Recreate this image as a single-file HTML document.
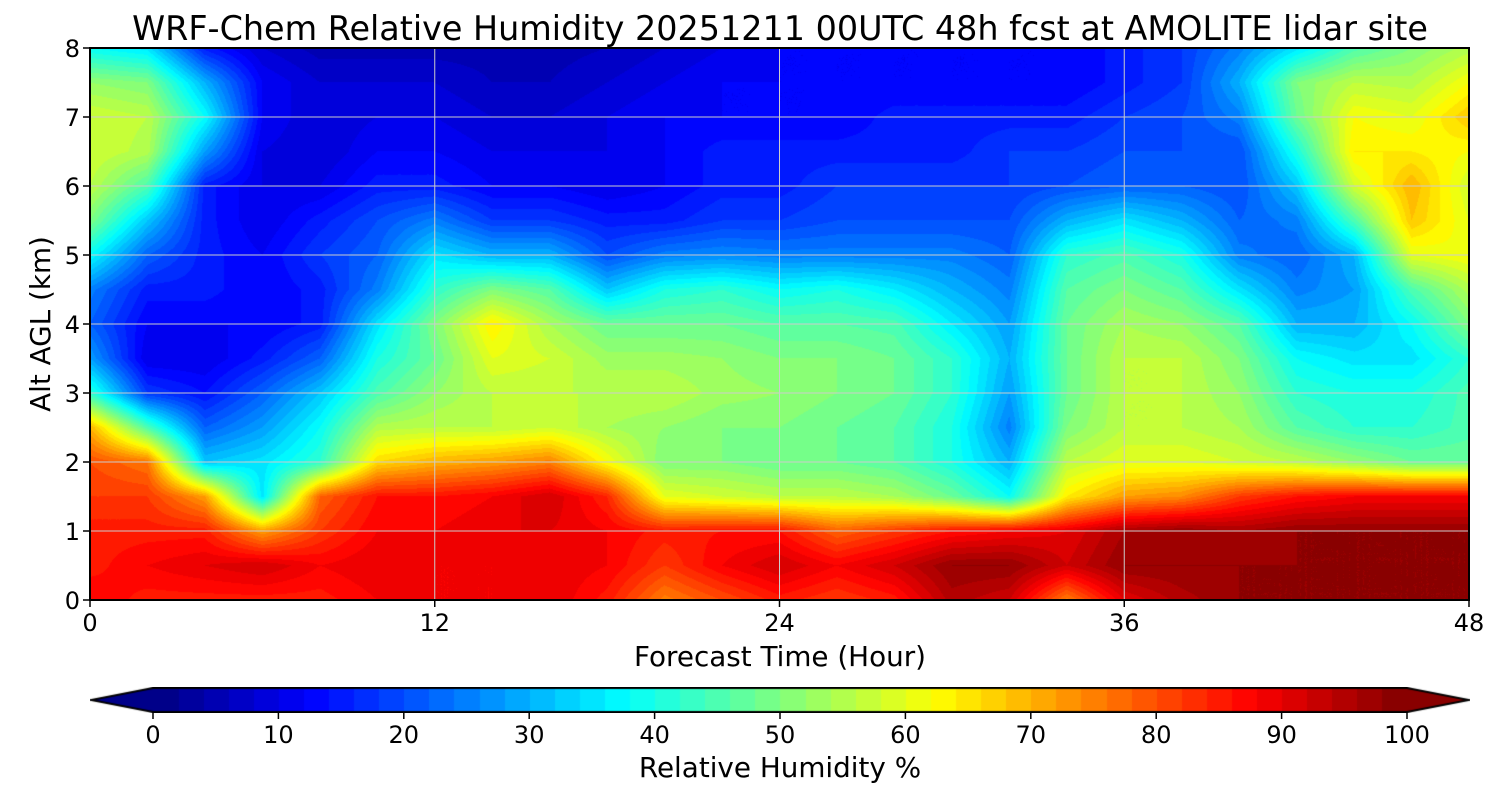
<!DOCTYPE html>
<html><head><meta charset="utf-8"><style>
html,body{margin:0;padding:0;background:#fff;}
#wrap{position:relative;width:1500px;height:800px;font-family:"DejaVu Sans","Liberation Sans",sans-serif;}
canvas{position:absolute;}
svg{position:absolute;left:0;top:0;font-family:"DejaVu Sans","Liberation Sans",sans-serif;}
</style></head><body>
<div id="wrap">
<canvas id="field" width="1379" height="552" style="left:90px;top:48px"></canvas>
<canvas id="cbar" width="1380" height="26" style="left:90px;top:687px"></canvas>
<svg id="ov" width="1500" height="800"></svg>
</div>
<script>
const times=[0,2,4,6,8,10,12,14,16,18,20,22,24,26,28,30,32,34,36,38,40,42,44,46,48];
const alts=[0,0.5,1,1.5,2,2.5,3,3.5,4,4.5,5,5.5,6,6.5,7,7.5,8];
const xTicks=[0,12,24,36,48];
const yTicks=[0,1,2,3,4,5,6,7,8];
const cbTicks=[0,10,20,30,40,50,60,70,80,90,100];
// rh[timeIndex][altIndex]
const rh=[
[88,85,85,82,80,70,42,28,22,25,38,50,56,58,58,52,38],
[85,88,85,82,76,45,18,10,12,15,22,32,45,55,56,50,35],
[85,90,85,72,32,22,14,10,12,15,15,15,15,28,38,30,15],
[85,92,72,35,35,28,22,15,12,12,12,10,10,10,12,12,8],
[85,88,82,78,42,38,32,22,15,15,18,15,10,8,8,8,5],
[88,90,88,86,66,55,45,40,35,25,22,20,15,12,10,8,5],
[88,88,88,86,70,56,52,48,50,42,35,25,15,12,10,8,5],
[88,88,90,88,72,56,56,60,64,50,30,18,12,10,8,6,5],
[90,90,90,92,75,58,56,58,54,46,30,18,12,10,8,6,5],
[85,88,88,84,62,54,56,53,48,32,20,15,10,10,10,8,6],
[75,82,85,60,50,52,56,53,48,40,25,15,12,12,12,10,8],
[80,88,86,58,50,50,53,52,48,42,26,18,15,15,12,12,10],
[85,92,86,56,48,50,52,50,46,38,25,18,15,15,12,12,12],
[82,88,78,56,48,48,50,50,46,40,25,20,18,15,12,12,12],
[85,92,82,54,46,46,48,48,45,36,25,20,18,15,15,12,12],
[95,98,86,48,40,40,42,42,36,30,25,20,18,15,15,12,12],
[92,98,88,38,30,25,28,30,28,25,22,20,18,18,15,12,12],
[75,92,90,64,56,50,48,48,48,46,42,30,20,18,15,12,12],
[90,98,96,72,60,56,56,56,54,50,45,35,22,20,18,15,15],
[95,98,98,74,60,56,56,56,52,46,40,30,22,20,20,18,18],
[98,98,96,82,58,54,52,50,46,35,25,22,20,20,25,30,25],
[98,98,98,86,56,46,42,38,30,25,22,25,32,40,48,50,35],
[98,98,98,88,52,42,40,35,30,28,30,45,58,64,62,56,45],
[98,98,98,88,48,42,40,35,38,45,60,68,70,64,60,55,50],
[98,98,98,88,48,45,45,42,50,55,62,60,58,62,68,62,55]
];
function jet(v){
  let t=Math.max(0,Math.min(1,v));
  const f=(x)=>Math.max(0,Math.min(1,x));
  const r=f(Math.min(4*t-1.5,-4*t+4.5)),g=f(Math.min(4*t-0.5,-4*t+3.5)),b=f(Math.min(4*t+0.5,-4*t+2.5));
  return [r*255|0,g*255|0,b*255|0];
}
function q(v){let l=Math.floor(Math.max(0,Math.min(99.99,v))/2);return jet((l+0.5)/50);}
const X0=90,X1=1469,Y0=48,Y1=600;
const xs=t=>X0+(t-times[0])/(times[times.length-1]-times[0])*(X1-X0);
const ys=a=>Y1-(a-alts[0])/(alts[alts.length-1]-alts[0])*(Y1-Y0);
function val(t,a){
  let i=0;while(i<times.length-2&&t>times[i+1])i++;
  let j=0;while(j<alts.length-2&&a>alts[j+1])j++;
  const u=(t-times[i])/(times[i+1]-times[i]),w=(a-alts[j])/(alts[j+1]-alts[j]);
  return rh[i][j]*(1-u)*(1-w)+rh[i+1][j]*u*(1-w)+rh[i][j+1]*(1-u)*w+rh[i+1][j+1]*u*w;
}
(function(){
  const c=document.getElementById('field'),ctx=c.getContext('2d');
  const W=c.width,H=c.height,img=ctx.createImageData(W,H);
  const tMax=times[times.length-1],aMax=alts[alts.length-1];
  for(let y=0;y<H;y++){const a=aMax*(1-(y+0.5)/H);
    for(let x=0;x<W;x++){const t=tMax*(x+0.5)/W;const col=q(val(t,a));const k=(y*W+x)*4;
      img.data[k]=col[0];img.data[k+1]=col[1];img.data[k+2]=col[2];img.data[k+3]=255;}}
  ctx.putImageData(img,0,0);
  const cb=document.getElementById('cbar'),cx=cb.getContext('2d');
  for(let x=63;x<1317;x++){const v=(x-63)/1254*100;const col=q(v);cx.fillStyle=`rgb(${col})`;cx.fillRect(x,1,1,24);}
  cx.fillStyle=`rgb(${jet(0.01)})`;cx.beginPath();cx.moveTo(63,1);cx.lineTo(0,13);cx.lineTo(63,25);cx.fill();
  cx.fillStyle=`rgb(${jet(0.99)})`;cx.beginPath();cx.moveTo(1317,1);cx.lineTo(1379,13);cx.lineTo(1317,25);cx.fill();
  cx.strokeStyle='#000';cx.lineWidth=2;cx.beginPath();cx.moveTo(63,1);cx.lineTo(1,13);cx.lineTo(63,25);cx.lineTo(1317,25);cx.lineTo(1379,13);cx.lineTo(1317,1);cx.closePath();cx.stroke();
})();
(function(){
  const s=document.getElementById('ov');const NS='http://www.w3.org/2000/svg';
  function el(tag,attrs,txt){const e=document.createElementNS(NS,tag);for(const k in attrs)e.setAttribute(k,attrs[k]);if(txt!==undefined)e.textContent=txt;s.appendChild(e);return e;}
  xTicks.forEach(t=>{const x=xs(t);
    const g=el('line',{x1:x,x2:x,y1:Y0,y2:Y1,stroke:'#ccc','stroke-width':1});
    
    el('line',{x1:x,x2:x,y1:Y1,y2:Y1+7,stroke:'#000','stroke-width':1.5});
    const l=el('text',{x:x,y:631,'text-anchor':'middle','font-size':24},String(t));
    });
  yTicks.forEach(a=>{const y=ys(a);
    const g=el('line',{x1:X0,x2:X1,y1:y,y2:y,stroke:'#ccc','stroke-width':1});
    
    el('line',{x1:X0-7,x2:X0,y1:y,y2:y,stroke:'#000','stroke-width':1.5});
    const l=el('text',{x:80,y:y+9,'text-anchor':'end','font-size':24},String(a));
    });
  const fr=el('rect',{x:X0,y:Y0,width:X1-X0,height:Y1-Y0,fill:'none',stroke:'#000','stroke-width':2});
  
  cbTicks.forEach(v=>{const x=153+v/100*1254;
    el('line',{x1:x,x2:x,y1:712,y2:719,stroke:'#000','stroke-width':1.5});
    const l=el('text',{x:x,y:743,'text-anchor':'middle','font-size':24},String(v));
    });
  const ti=el('text',{x:780,y:40,'text-anchor':'middle','font-size':33.4},'WRF-Chem Relative Humidity 20251211 00UTC 48h fcst at AMOLITE lidar site');
  
  const xl=el('text',{x:780,y:666,'text-anchor':'middle','font-size':27.8},'Forecast Time (Hour)');
  
  const yl=el('text',{x:0,y:0,'text-anchor':'middle','font-size':27.8,transform:'translate(50,324) rotate(-90)'},'Alt AGL (km)');
  
  const cl=el('text',{x:780,y:777,'text-anchor':'middle','font-size':27.8},'Relative Humidity %');
  
})();
</script>
</body></html>
